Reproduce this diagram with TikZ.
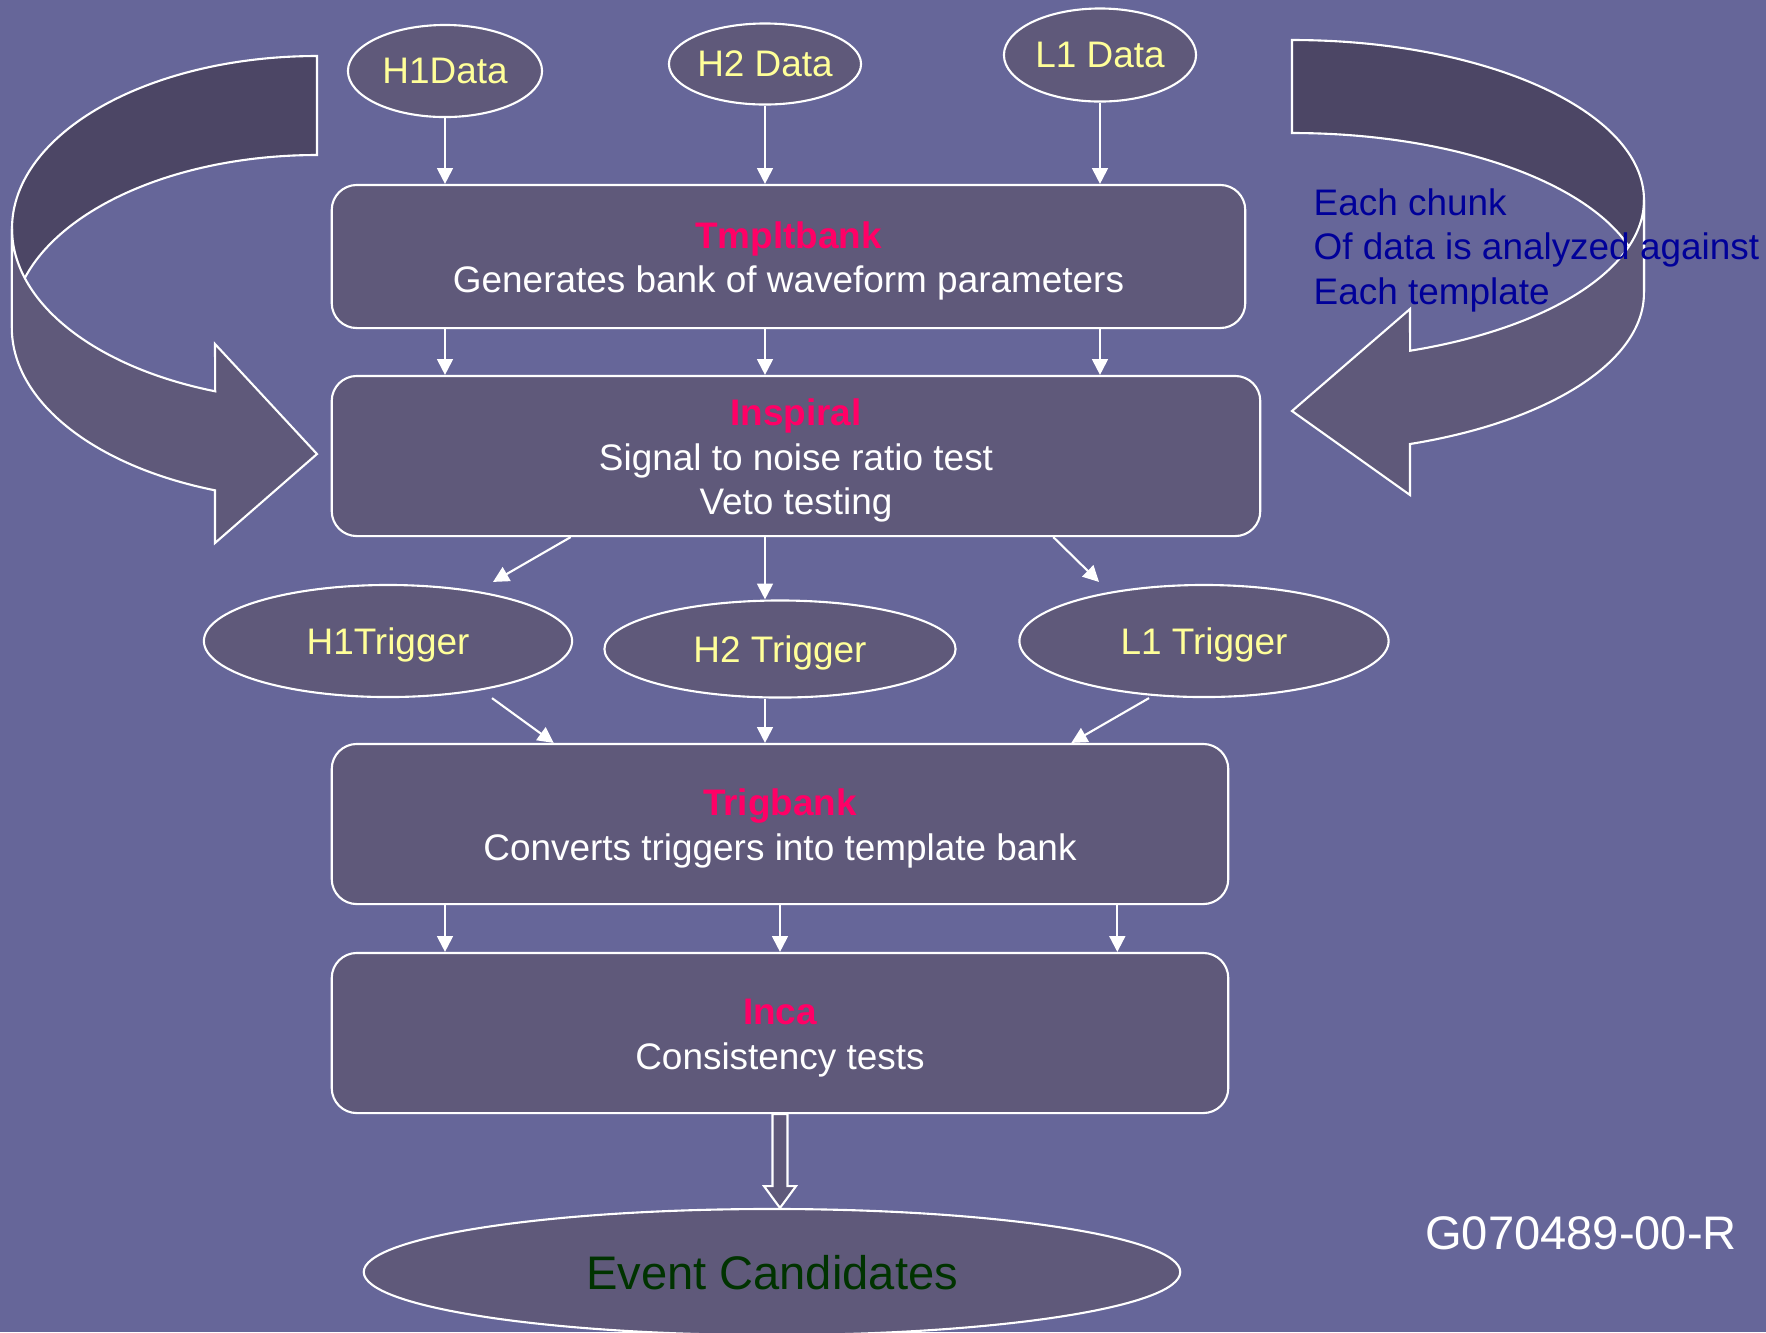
\documentclass[tikz,border=0pt]{standalone}
\usepackage{fontspec}
\setmainfont{Liberation Sans}
\usepackage{tikz}
\usetikzlibrary{shapes.geometric,arrows.meta,calc}

\definecolor{slide}{RGB}{102,102,153}
\definecolor{boxfill}{RGB}{95,89,122}
\definecolor{bandback}{RGB}{76,70,101}
\definecolor{titlepink}{RGB}{255,0,102}
\definecolor{datayellow}{RGB}{255,255,153}
\definecolor{noteblue}{RGB}{0,0,153}
\definecolor{eventgreen}{RGB}{0,51,0}
\newcommand{\stagetitle}[1]{\rule{0pt}{10.2pt}{\bfseries\color{titlepink}#1}}

\begin{document}
\begin{tikzpicture}[x=0.01cm,y=-0.01cm]
\tikzstyle{stage}=[rectangle,rounded corners=0.25cm,draw=white,line width=0.6pt,fill=boxfill,text=white,align=center,inner sep=0pt,font=\fontsize{10.5pt}{12.6pt}\selectfont]
\tikzstyle{oval}=[ellipse,draw=white,line width=0.6pt,fill=boxfill,text=datayellow,inner sep=0pt,text depth=0pt,font=\fontsize{10.5pt}{12.6pt}\selectfont]
\tikzstyle{flow}=[draw=white,line width=0.6pt,-{Triangle[width=4.5pt,length=4.5pt]}]
\tikzstyle{ribbonback}=[fill=bandback,draw=white,line width=0.6pt]
\tikzstyle{ribbonfront}=[fill=boxfill,draw=white,line width=0.6pt]
\fill[slide] (0,0) rectangle (1766,1332);
\useasboundingbox (0,0) rectangle (1766,1332);
% left loop arrow
\filldraw[ribbonback] (317,56) arc[start angle=270,end angle=180,x radius=305,y radius=172.6] -- (12,327.6) arc[start angle=180,end angle=270,x radius=305,y radius=172.6] -- cycle;
\filldraw[ribbonfront] (12,228.6) arc[start angle=180,end angle=109.5,x radius=305,y radius=172.6] -- (215,344) -- (317,454) -- (215,543) -- (215,490.3) arc[start angle=109.5,end angle=180,x radius=305,y radius=172.6] -- cycle;
% right loop arrow
\filldraw[ribbonback] (1292,40) arc[start angle=270,end angle=360,x radius=352,y radius=160] -- (1644,293) arc[start angle=0,end angle=-90,x radius=352,y radius=160] -- cycle;
\filldraw[ribbonfront] (1644,200) arc[start angle=0,end angle=70.4,x radius=352,y radius=160] -- (1410,309) -- (1292,411) -- (1410,495) -- (1410,444) arc[start angle=70.4,end angle=0,x radius=352,y radius=160] -- cycle;
\node[text=noteblue,align=left,anchor=west,inner sep=0pt,font=\fontsize{10.5pt}{12.65pt}\selectfont] (note) at (1313,250) {Each chunk\\Of data is analyzed against\\Each template};
% stages
\node[stage,minimum width=9.13cm,minimum height=1.43cm] (tmpl) at (788.5,256.5) {\stagetitle{Tmpltbank}\\Generates bank of waveform parameters};
\node[stage,minimum width=9.28cm,minimum height=1.60cm] (insp) at (796,456) {\stagetitle{Inspiral}\\Signal to noise ratio test\\Veto testing};
\node[stage,minimum width=8.96cm,minimum height=1.60cm] (trig) at (780,824) {\stagetitle{Trigbank}\\Converts triggers into template bank};
\node[stage,minimum width=8.96cm,minimum height=1.60cm] (inca) at (780,1033) {\stagetitle{Inca}\\Consistency tests};
% data and triggers
\node[oval,minimum width=1.94cm,minimum height=0.92cm] (h1d) at (445,71) {H1Data};
\node[oval,minimum width=1.92cm,minimum height=0.81cm] (h2d) at (765,64) {H2 Data};
\node[oval,minimum width=1.92cm,minimum height=0.93cm] (l1d) at (1100,55) {L1 Data};
\node[oval,minimum width=3.68cm,minimum height=1.12cm] (h1t) at (388,641) {H1Trigger};
\node[oval,minimum width=3.51cm,minimum height=0.97cm] (h2t) at (780,649) {H2 Trigger};
\node[oval,minimum width=3.69cm,minimum height=1.12cm] (l1t) at (1204,641) {L1 Trigger};
\node[oval,minimum width=8.16cm,minimum height=1.26cm,text=eventgreen,font=\fontsize{13.4pt}{16pt}\selectfont] (evt) at (772,1272) {Event Candidates};
\node[text=white,inner sep=0pt,font=\fontsize{13.4pt}{16pt}\selectfont] (docid) at (1581,1233) {G070489-00-R};
% connectors
\draw[flow] (h1d.south) -- (h1d.south |- tmpl.north);
\draw[flow] (h2d.south) -- (h2d.south |- tmpl.north);
\draw[flow] (l1d.south) -- (l1d.south |- tmpl.north);
\draw[flow] (h1d.south |- tmpl.south) -- (h1d.south |- insp.north);
\draw[flow] (h2d.south |- tmpl.south) -- (h2d.south |- insp.north);
\draw[flow] (l1d.south |- tmpl.south) -- (l1d.south |- insp.north);
\draw[flow] ($(insp.south west)+(240,0)$) -- ($(h1t.north)+(105,-2)$);
\draw[flow] (h2d.south |- insp.south) -- (h2d.south |- h2t.north);
\draw[flow] ($(insp.south east)+(-208,0)$) -- ($(l1t.north)+(-105,-2)$);
\draw[flow] ($(h1t.south)+(104,0)$) -- ($(trig.north west)+(223,0)$);
\draw[flow] (h2d.south |- h2t.south) -- (h2d.south |- trig.north);
\draw[flow] ($(l1t.south)+(-55,0)$) -- ($(trig.north east)+(-158,0)$);
\draw[flow] (h1d.south |- trig.south) -- (h1d.south |- inca.north);
\draw[flow] (trig.south) -- (inca.north);
\draw[flow] ($(trig.south east)+(-112,0)$) -- ($(inca.north east)+(-112,0)$);
% hollow arrow to the result
\draw[fill=boxfill,draw=white,line width=0.6pt] ($(inca.south)+(-7.5,0)$) -- ++(0,72) -- ++(-8.5,0) -- (inca.south |- evt.north) -- ($(inca.south)+(16,72)$) -- ++(-8.5,0) -- ($(inca.south)+(7.5,0)$) -- cycle;
\end{tikzpicture}
\end{document}
